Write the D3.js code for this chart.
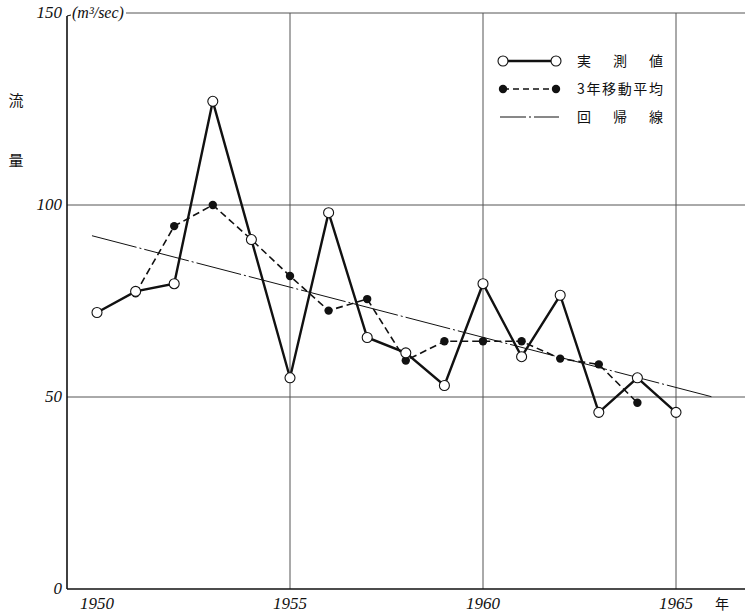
<!DOCTYPE html>
<html>
<head>
<meta charset="utf-8">
<script src="https://cdn.jsdelivr.net/npm/d3@7"></script>
<style>
  html, body { margin: 0; padding: 0; background: #fff; }
  svg { display: block; }
  .num { font-family: "Liberation Serif", "DejaVu Serif", serif; font-style: italic; fill: #111; }
  .jp { font-family: "Noto Sans CJK JP", "Noto Sans CJK SC", sans-serif; fill: #111; }
</style>
</head>
<body>
<script>
// Annual river discharge (m³/sec), 1950–1965
const years = [1950, 1951, 1952, 1953, 1954, 1955, 1956, 1957, 1958, 1959, 1960, 1961, 1962, 1963, 1964, 1965];
const observed = [72, 77.5, 79.5, 127, 91, 55, 98, 65.5, 61.5, 53, 79.5, 60.5, 76.5, 46, 55, 46];

// 3-year moving average
const avgYears = [1951, 1952, 1953, 1954, 1955, 1956, 1957, 1958, 1959, 1960, 1961, 1962, 1963, 1964];
const movingAvg = [77, 94.5, 100, 91, 81.5, 72.5, 75.5, 59.5, 64.5, 64.5, 64.5, 60, 58.5, 48.5];

// Regression line end points
const regYears = [1949.87, 1965.95];
const regValues = [92, 50];

// Axis ticks
const yTicks = [0, 50, 100, 150];
const xTicks = [1950, 1955, 1960, 1965];
const gridYears = [1955, 1960, 1965];

const legendItems = ["実 測 値", "3年移動平均", "回 帰 線"];

const W = 745, H = 613;
const svg = d3.select("body").append("svg").attr("width", W).attr("height", H);

const x = d3.scaleLinear().domain([1950, 1965]).range([97, 676]);
const y = d3.scaleLinear().domain([0, 150]).range([589, 13]);
const axisX = 67;

// Grid lines
const grid = svg.append("g").attr("stroke", "#555").attr("stroke-width", 1).attr("fill", "none");
grid.selectAll("line.v").data(gridYears).enter().append("line")
  .attr("x1", d => x(d)).attr("x2", d => x(d))
  .attr("y1", y(150)).attr("y2", y(0));
grid.selectAll("line.h").data(yTicks.filter(d => d > 0)).enter().append("line")
  .attr("x1", d => d === 150 ? 126 : axisX).attr("x2", W)
  .attr("y1", d => y(d)).attr("y2", d => y(d));

// Axes
svg.append("line").attr("x1", axisX).attr("x2", axisX).attr("y1", y(150) + 3).attr("y2", y(0))
  .attr("stroke", "#111").attr("stroke-width", 1.6);
svg.append("line").attr("x1", axisX).attr("x2", axisX + 4).attr("y1", y(150) + 3).attr("y2", y(150) + 2)
  .attr("stroke", "#111").attr("stroke-width", 1);
svg.append("line").attr("x1", axisX).attr("x2", W).attr("y1", y(0)).attr("y2", y(0))
  .attr("stroke", "#111").attr("stroke-width", 1.6);

// Tick labels
svg.selectAll("text.yt").data(yTicks).enter().append("text")
  .attr("class", "num").attr("x", 62).attr("y", d => y(d) + 5)
  .attr("text-anchor", "end").attr("font-size", 17).text(d => d);
svg.selectAll("text.xt").data(xTicks).enter().append("text")
  .attr("class", "num").attr("x", d => x(d)).attr("y", 609)
  .attr("text-anchor", "middle").attr("font-size", 17).text(d => d);

svg.append("text").attr("class", "num").attr("x", 72).attr("y", 18)
  .attr("font-size", 16).text("(m³/sec)");
svg.append("text").attr("class", "jp").attr("x", 722).attr("y", 609)
  .attr("text-anchor", "middle").attr("font-size", 14).text("年");
svg.append("text").attr("class", "jp").attr("x", 16).attr("y", 106)
  .attr("text-anchor", "middle").attr("font-size", 15).text("流");
svg.append("text").attr("class", "jp").attr("x", 16).attr("y", 166)
  .attr("text-anchor", "middle").attr("font-size", 15).text("量");

// Regression line
const regData = regYears.map((d, i) => [d, regValues[i]]);
svg.append("path").datum(regData)
  .attr("d", d3.line().x(d => x(d[0])).y(d => y(d[1])))
  .attr("fill", "none").attr("stroke", "#111").attr("stroke-width", 1)
  .attr("stroke-dasharray", "46,3,2,3");

// Moving average
const avgData = avgYears.map((d, i) => [d, movingAvg[i]]);
svg.append("path").datum(avgData)
  .attr("d", d3.line().x(d => x(d[0])).y(d => y(d[1])))
  .attr("fill", "none").attr("stroke", "#111").attr("stroke-width", 1.6)
  .attr("stroke-dasharray", "7,4");

// Observed values
const obsData = years.map((d, i) => [d, observed[i]]);
svg.append("path").datum(obsData)
  .attr("d", d3.line().x(d => x(d[0])).y(d => y(d[1])))
  .attr("fill", "none").attr("stroke", "#111").attr("stroke-width", 2.4)
  .attr("stroke-linejoin", "miter");

svg.selectAll("circle.avg").data(avgData).enter().append("circle")
  .attr("cx", d => x(d[0])).attr("cy", d => y(d[1])).attr("r", 4.2)
  .attr("fill", "#111");
svg.selectAll("circle.obs").data(obsData).enter().append("circle")
  .attr("cx", d => x(d[0])).attr("cy", d => y(d[1])).attr("r", 5)
  .attr("fill", "#fff").attr("stroke", "#111").attr("stroke-width", 1.1);

// Legend
const lg = svg.append("g");
const lx1 = 503, lx2 = 556, rows = [61, 89, 117];
lg.append("line").attr("x1", lx1).attr("x2", lx2).attr("y1", rows[0]).attr("y2", rows[0])
  .attr("stroke", "#111").attr("stroke-width", 2.4);
[lx1, lx2].forEach(px => lg.append("circle").attr("cx", px).attr("cy", rows[0]).attr("r", 5)
  .attr("fill", "#fff").attr("stroke", "#111").attr("stroke-width", 1.1));
lg.append("line").attr("x1", lx1).attr("x2", lx2).attr("y1", rows[1]).attr("y2", rows[1])
  .attr("stroke", "#111").attr("stroke-width", 1.6).attr("stroke-dasharray", "6,4");
[lx1, lx2].forEach(px => lg.append("circle").attr("cx", px).attr("cy", rows[1]).attr("r", 4.2)
  .attr("fill", "#111"));
lg.append("line").attr("x1", lx1 - 3).attr("x2", lx2 + 3).attr("y1", rows[2]).attr("y2", rows[2])
  .attr("stroke", "#111").attr("stroke-width", 1).attr("stroke-dasharray", "26,3,2,3");

lg.selectAll("text").data(legendItems).enter().append("text")
  .attr("class", "jp").attr("x", 577).attr("y", (d, i) => rows[i] + 5)
  .attr("font-size", 14)
  .attr("textLength", 86).attr("lengthAdjust", "spacing")
  .text(d => d);
</script>
</body>
</html>
